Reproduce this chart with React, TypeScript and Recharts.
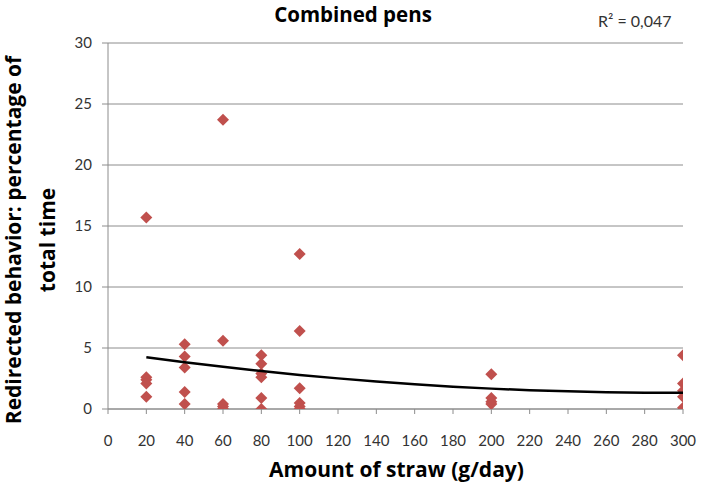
import React from 'react';
import { ScatterChart, Scatter, XAxis, YAxis, CartesianGrid } from 'recharts';

const xTicks = [0, 20, 40, 60, 80, 100, 120, 140, 160, 180, 200, 220, 240, 260, 280, 300];
const yTicks = [0, 5, 10, 15, 20, 25, 30];

// Redirected behavior (% of total time) per straw amount (g/day)
const straw20 = [15.7, 2.6, 2.4, 2.1, 1.0];
const straw40 = [5.3, 4.3, 3.4, 1.4, 0.4];
const straw60 = [23.7, 5.6, 0.4, 0.2, 0.0];
const straw80 = [4.4, 3.7, 2.9, 2.6, 0.9, 0.0];
const straw100 = [12.7, 6.4, 1.7, 0.5, 0.2, 0.0];
const straw200 = [2.85, 0.9, 0.6, 0.4];
const straw300 = [4.4, 2.1, 1.5, 1.0, 0.1];

const groups: [number, number[]][] = [
  [20, straw20],
  [40, straw40],
  [60, straw60],
  [80, straw80],
  [100, straw100],
  [200, straw200],
  [300, straw300],
];

// Trendline values
const trendX = [20, 40, 60, 80, 100, 120, 140, 160, 180, 200, 220, 240, 260, 280, 300];
const trendY = [4.25, 3.84, 3.46, 3.11, 2.79, 2.51, 2.25, 2.03, 1.83, 1.67, 1.54, 1.45, 1.38, 1.34, 1.34];

const points = groups.flatMap(([x, ys]) => ys.map((y) => ({ x, y })));
const trend = trendX.map((x, i) => ({ x, y: trendY[i] }));

const FONT = 'Lato, "Open Sans", sans-serif';
const BOLD_FONT = '"Open Sans", Lato, sans-serif';
const GRID = '#8c8c8c';

const Diamond = (props: any) => {
  const { cx, cy } = props;
  if (cx == null || cy == null) return <g />;
  const r = 6;
  return (
    <path
      d={`M${cx},${cy - r}L${cx + r},${cy}L${cx},${cy + r}L${cx - r},${cy}Z`}
      fill="#C0504D"
    />
  );
};

const NoDot = () => <g />;

export default function App() {
  const W = 701;
  const H = 483;
  return (
    <div style={{ position: 'absolute', left: 0, top: 0, width: W, height: H, background: '#fff', fontFamily: FONT }}>
      <ScatterChart width={W} height={H} margin={{ top: 43, right: 18, bottom: 0, left: 0 }}>
        <CartesianGrid vertical={false} stroke={GRID} strokeWidth={1} />
        <XAxis
          type="number"
          dataKey="x"
          domain={[0, 300]}
          ticks={xTicks}
          interval={0}
          height={74}
          tickSize={5}
          tickMargin={21}
          axisLine={{ stroke: GRID }}
          tickLine={{ stroke: GRID }}
          tick={{ fill: '#333', fontSize: 15, fontFamily: FONT }}
          allowDataOverflow
        />
        <YAxis
          type="number"
          dataKey="y"
          domain={[0, 30]}
          ticks={yTicks}
          interval={0}
          width={108}
          tickSize={6}
          tickMargin={10}
          axisLine={{ stroke: GRID }}
          tickLine={{ stroke: GRID }}
          tick={{ fill: '#333', fontSize: 15, fontFamily: FONT }}
          allowDataOverflow
        />
        <Scatter data={points} shape={Diamond} isAnimationActive={false} />
        <Scatter
          data={trend}
          line={{ stroke: '#000', strokeWidth: 2.5 }}
          lineType="joint"
          shape={NoDot}
          isAnimationActive={false}
        />
      </ScatterChart>
      <svg
        width={W}
        height={H}
        style={{ position: 'absolute', left: 0, top: 0, pointerEvents: 'none' }}
      >
        <text x={353} y={21.5} textAnchor="middle" fontFamily={BOLD_FONT} fontWeight={700} fontSize={20.5} fill="#000">
          Combined pens
        </text>
        <text x={598} y={27} textAnchor="start" fontFamily={FONT} fontSize={16} fill="#333">
          R² = 0,047
        </text>
        <text x={396.5} y={477} textAnchor="middle" fontFamily={BOLD_FONT} fontWeight={700} fontSize={21} fill="#000">
          Amount of straw (g/day)
        </text>
        <text
          x={21}
          y={240}
          transform="rotate(-90 21 240)"
          textAnchor="middle"
          fontFamily={BOLD_FONT}
          fontWeight={700}
          fontSize={21}
          fill="#000"
        >
          Redirected behavior: percentage of
        </text>
        <text
          x={55}
          y={240}
          transform="rotate(-90 55 240)"
          textAnchor="middle"
          fontFamily={BOLD_FONT}
          fontWeight={700}
          fontSize={21}
          fill="#000"
        >
          total time
        </text>
      </svg>
    </div>
  );
}
